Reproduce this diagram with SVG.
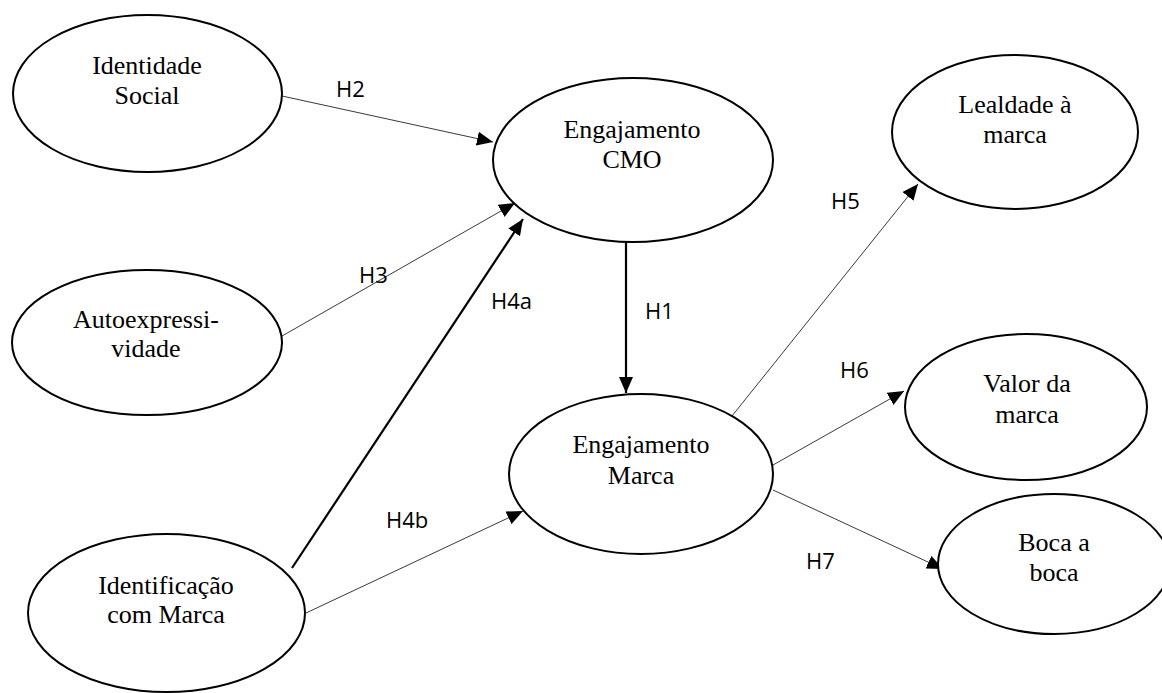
<svg xmlns="http://www.w3.org/2000/svg" width="1162" height="693" viewBox="0 0 1162 693">
  <style>
    .node ellipse { fill: #ffffff; stroke: #000000; stroke-width: 2; }
    .node text { font-family: "Liberation Serif", "Times New Roman", serif; font-size: 26px; fill: #000000; text-anchor: middle; }
    .edge { stroke: #222222; stroke-width: 0.9; fill: none; }
    .edge.bold { stroke: #000000; stroke-width: 2.2; }
    .lbl { font-family: "Open Sans", "DejaVu Sans", sans-serif; font-size: 22px; fill: #000000; }
  </style>
  <defs>
    <marker id="arrow" markerUnits="userSpaceOnUse" markerWidth="16" markerHeight="14" refX="16" refY="7" orient="auto">
      <path d="M0,0 L16,7 L0,14 Z" fill="#000000"/>
    </marker>
  </defs>

  <!-- connectors -->
  <g id="connectors">
    <line class="edge" x1="282" y1="96" x2="493" y2="142" marker-end="url(#arrow)"/>
    <line class="edge" x1="282" y1="336" x2="515" y2="203" marker-end="url(#arrow)"/>
    <line class="edge bold" x1="292" y1="568" x2="523" y2="219" marker-end="url(#arrow)"/>
    <line class="edge" x1="306" y1="613" x2="523" y2="511" marker-end="url(#arrow)"/>
    <line class="edge bold" x1="626" y1="242" x2="626" y2="393" marker-end="url(#arrow)"/>
    <line class="edge" x1="732" y1="416" x2="918" y2="184" marker-end="url(#arrow)"/>
    <line class="edge" x1="773" y1="465" x2="904" y2="391" marker-end="url(#arrow)"/>
    <line class="edge" x1="773" y1="490" x2="943" y2="569" marker-end="url(#arrow)"/>

    <text class="lbl" x="336" y="97">H2</text>
    <text class="lbl" x="359" y="283">H3</text>
    <text class="lbl" x="491" y="309">H4a</text>
    <text class="lbl" x="645" y="319">H1</text>
    <text class="lbl" x="386" y="528">H4b</text>
    <text class="lbl" x="831" y="209">H5</text>
    <text class="lbl" x="840" y="378">H6</text>
    <text class="lbl" x="806" y="569">H7</text>
  </g>

  <!-- nodes -->
  <g id="identidade-social" class="node">
    <ellipse cx="147.5" cy="93.5" rx="134.5" ry="78.5"/>
    <text x="147" y="74">Identidade</text>
    <text x="147" y="104">Social</text>
  </g>
  <g id="engajamento-cmo" class="node">
    <ellipse cx="633" cy="160" rx="140" ry="82"/>
    <text x="632" y="138">Engajamento</text>
    <text x="632" y="168">CMO</text>
  </g>
  <g id="autoexpressividade" class="node">
    <ellipse cx="147" cy="342.5" rx="135" ry="72.5"/>
    <text x="146" y="328">Autoexpressi-</text>
    <text x="146" y="357">vidade</text>
  </g>
  <g id="identificacao-marca" class="node">
    <ellipse cx="166.5" cy="613" rx="138.5" ry="79"/>
    <text x="166" y="594">Identificação</text>
    <text x="166" y="623">com Marca</text>
  </g>
  <g id="engajamento-marca" class="node">
    <ellipse cx="641" cy="474" rx="132" ry="80"/>
    <text x="641" y="453">Engajamento</text>
    <text x="641" y="484">Marca</text>
  </g>
  <g id="lealdade-marca" class="node">
    <ellipse cx="1015" cy="132" rx="123" ry="77"/>
    <text x="1015" y="113">Lealdade à</text>
    <text x="1015" y="143">marca</text>
  </g>
  <g id="valor-marca" class="node">
    <ellipse cx="1026" cy="407" rx="121" ry="73"/>
    <text x="1027" y="392">Valor da</text>
    <text x="1027" y="423">marca</text>
  </g>
  <g id="boca-a-boca" class="node">
    <ellipse cx="1054" cy="564" rx="116" ry="70"/>
    <text x="1054" y="551">Boca a</text>
    <text x="1054" y="581">boca</text>
  </g>
</svg>
